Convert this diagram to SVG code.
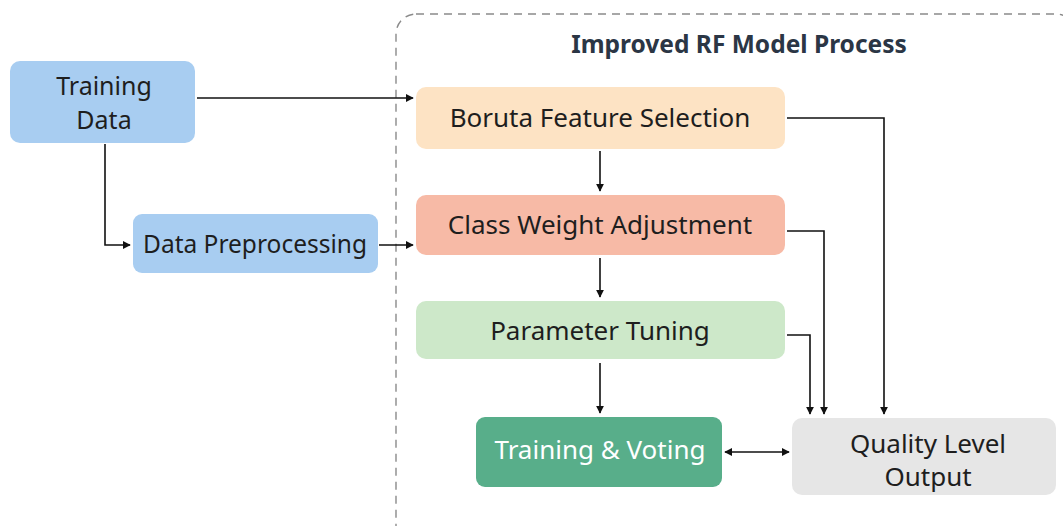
<svg xmlns="http://www.w3.org/2000/svg" width="1063" height="526" viewBox="0 0 1063 526">
<style>
.t{font-family:"Noto Sans","Open Sans",sans-serif;font-size:26px;fill:#1e1e1e;text-anchor:middle}
.c{fill:none;stroke:#111;stroke-width:1.6}
</style>
<defs>
<marker id="ah" viewBox="0 0 10 10" refX="9" refY="5" markerWidth="8" markerHeight="8" markerUnits="userSpaceOnUse" orient="auto-start-reverse">
<path d="M0,0 L10,5 L0,10 z" fill="#111"/>
</marker>
</defs>
<rect width="1063" height="526" fill="#ffffff"/>
<g id="container">
<rect x="396" y="14" width="680" height="540" rx="20" fill="none" stroke="#8a8a8a" stroke-width="1.4" stroke-dasharray="8 6"/>
<text x="739" y="53" style="font-family:'Noto Sans','Open Sans',sans-serif;font-size:24.5px;font-weight:bold;fill:#2b3645;text-anchor:middle">Improved RF Model Process</text>
</g>
<g id="training-data">
<rect x="10" y="61" width="185" height="82" rx="10" fill="#a8cdf1"/>
<text class="t" x="104" y="95" style="font-size:25px">Training</text>
<text class="t" x="104" y="129" style="font-size:25px">Data</text>
</g>
<g id="data-preprocessing">
<rect x="133" y="214" width="245" height="59" rx="9" fill="#a8cdf1"/>
<text class="t" x="255" y="253" style="font-size:24.5px">Data Preprocessing</text>
</g>
<g id="boruta">
<rect x="416" y="87" width="369" height="62" rx="10" fill="#fde3c4"/>
<text class="t" x="600" y="127">Boruta Feature Selection</text>
</g>
<g id="class-weight">
<rect x="416" y="195" width="369" height="60" rx="10" fill="#f7baa6"/>
<text class="t" x="600" y="234">Class Weight Adjustment</text>
</g>
<g id="parameter-tuning">
<rect x="416" y="301" width="369" height="58" rx="10" fill="#cde8c9"/>
<text class="t" x="600" y="340">Parameter Tuning</text>
</g>
<g id="training-voting">
<rect x="476" y="417" width="246" height="70" rx="9" fill="#58ae8a"/>
<text class="t" x="600" y="459" style="fill:#ffffff">Training &amp; Voting</text>
</g>
<g id="quality-output">
<rect x="792" y="418" width="264" height="77" rx="10" fill="#e6e6e6"/>
<text class="t" x="928" y="453">Quality Level</text>
<text class="t" x="928" y="486">Output</text>
</g>
<g id="connectors">
<path class="c" d="M197,98 L413,98" marker-end="url(#ah)"/>
<path class="c" d="M105,144 L105,245 L130,245" marker-end="url(#ah)"/>
<path class="c" d="M379,245 L413,245" marker-end="url(#ah)"/>
<path class="c" d="M600,151 L600,191" marker-end="url(#ah)"/>
<path class="c" d="M600,258 L600,297" marker-end="url(#ah)"/>
<path class="c" d="M600,363 L600,413" marker-end="url(#ah)"/>
<path class="c" d="M725,452 L789,452" marker-start="url(#ah)" marker-end="url(#ah)"/>
<path class="c" d="M787,118 L884,118 L884,414" marker-end="url(#ah)"/>
<path class="c" d="M787,231 L824,231 L824,414" marker-end="url(#ah)"/>
<path class="c" d="M787,335 L810,335 L810,414" marker-end="url(#ah)"/>
</g>
</svg>
